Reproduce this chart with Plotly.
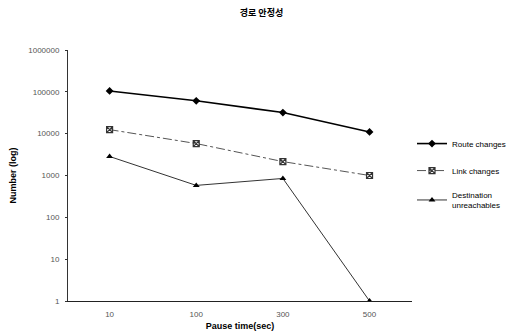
import plotly.graph_objects as go

# Pause time categories (sec)
pause_times = ["10", "100", "300", "500"]

# Counts per pause time
route_changes = [105000, 61000, 32000, 11000]
link_changes = [12500, 5800, 2150, 1000]
dest_unreachables = [2850, 580, 850, 1]

y_tick_vals = [1, 10, 100, 1000, 10000, 100000, 1000000]
y_tick_text = ["1", "10", "100", "1000", "10000", "100000", "1000000"]

fig = go.Figure()

fig.add_trace(go.Scatter(
    x=pause_times, y=route_changes, name="Route changes",
    mode="lines+markers",
    line=dict(color="black", width=1.6),
    marker=dict(symbol="diamond", size=6, color="black"),
    legendgroup="a",
))
fig.add_trace(go.Scatter(
    x=pause_times, y=link_changes, name="Link changes",
    mode="lines+markers",
    line=dict(color="#555555", width=1, dash="dashdot"),
    marker=dict(symbol="square-x-open", size=6, color="#333333", line=dict(width=1.2)),
    legendgroup="b",
))
fig.add_trace(go.Scatter(
    x=pause_times, y=dest_unreachables, name="Destination<br>unreachables",
    mode="lines+markers",
    line=dict(color="#333333", width=1),
    marker=dict(symbol="triangle-up", size=6, color="black"),
    legendgroup="c",
))

fig.update_layout(
    width=523, height=332,
    margin=dict(l=68, r=108, t=50, b=31),
    paper_bgcolor="white", plot_bgcolor="white",
    font=dict(family="Liberation Sans, Arial, sans-serif", color="black", size=8),
    title=dict(
        text="<b>경로 안정성</b>", x=0.5, xanchor="center", y=0.96, yanchor="middle",
        font=dict(family="Noto Sans CJK KR", size=9, color="black"),
    ),
    showlegend=True,
    legend=dict(
        x=1.0, xanchor="left", y=0.685, yanchor="top",
        font=dict(size=8, color="black", family="Liberation Sans, Arial, sans-serif"),
        tracegroupgap=8, bgcolor="rgba(0,0,0,0)", itemwidth=30,
    ),
    xaxis=dict(
        type="category", range=[-0.48, 3.49], automargin=False,
        showgrid=False, zeroline=False,
        showline=True, linecolor="#222222", linewidth=1,
        ticks="", ticklabelstandoff=5, tickfont=dict(size=8, color="#555555"),
        title=dict(text="<b>Pause time(sec)</b>", standoff=5, font=dict(size=9, color="black")),
    ),
    yaxis=dict(
        type="log", range=[0, 6], automargin=False,
        tickvals=y_tick_vals, ticktext=y_tick_text,
        showgrid=False, zeroline=False,
        showline=True, linecolor="#333333", linewidth=1,
        ticks="outside", ticklen=2, tickcolor="#333333",
        ticklabelstandoff=4, tickfont=dict(size=8, color="#555555"),
        title=dict(text="<b>Number (log)</b>", standoff=10, font=dict(size=9, color="black")),
    ),
)

fig.write_html("out.html")
